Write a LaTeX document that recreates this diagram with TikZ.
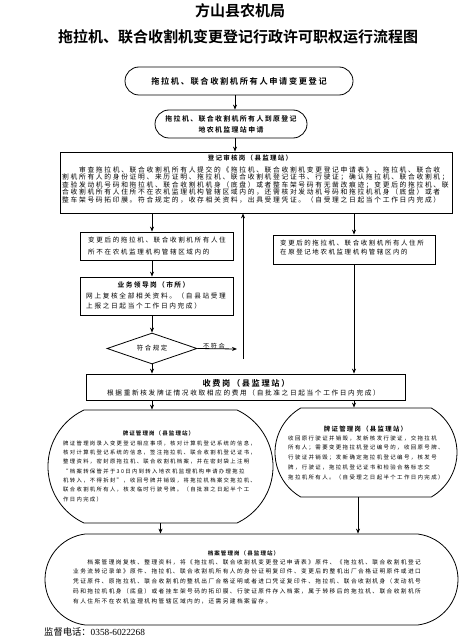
\documentclass[tikz,border=0pt]{standalone}
\usepackage{fontspec}
\setmainfont{Liberation Serif}
\newfontfamily\cjk[LetterSpace=25]{Noto Sans CJK SC}
\newfontfamily\cjkb[LetterSpace=20]{Noto Sans CJK SC Bold}
\newfontfamily\cjkt{Noto Sans CJK SC Bold}
\newfontfamily\cjkn{Noto Sans CJK SC}
\usetikzlibrary{shapes.misc,shapes.geometric,arrows.meta}
\newcommand{\fsz}[2]{\fontsize{#1}{#2}\selectfont}

\begin{document}
\begin{tikzpicture}[x=1pt,y=-1pt,
  box/.style={draw, line width=0.8pt, inner sep=0pt},
  stad/.style={draw, line width=0.8pt, rounded rectangle, inner sep=0pt},
  hd/.style={inner sep=0pt, font=\cjkb\fsz{#1}{#1}},
  bd/.style n args={2}{inner sep=0pt, anchor=west, align=left, font=\cjk\fsz{#1}{#2}},
  arr/.style={line width=0.8pt, -{Stealth[length=5pt,width=4pt]}}]

\useasboundingbox (0,0) rectangle (468,639);

% Titles
\node[font=\cjkt\fsz{15}{18}] (t1) at (240,11) {方山县农机局};
\node[font=\cjkt\fsz{15}{18}] (t2) at (238,37) {拖拉机、联合收割机变更登记行政许可职权运行流程图};

% Application
\node[stad, minimum width=228, minimum height=28, font=\cjkb\fsz{8.2}{10}] (s1) at (239,81) {拖拉机、联合收割机所有人申请变更登记};
\node[stad, minimum width=152, minimum height=28, align=center, font=\cjkb\fsz{6.9}{11}] (s2) at (231,124) {拖拉机、联合收割机所有人到原登记\\地农机监理站申请};

% Registration review
\node[box, minimum width=392, minimum height=61] (b3) at (256,182.5) {};
\node[hd=6.5] (b3h) at (250,158.5) {登记审核岗（县监理站）};
\node[bd={6.75}{7.5}] (b3x) at (62,184.5) {　　审查拖拉机、联合收割机所有人提交的《拖拉机、联合收割机变更登记申请表》、拖拉机、联合收\\
割机所有人的身份证明、来历证明、拖拉机、联合收割机登记证书、行驶证；确认拖拉机、联合收割机；\\
查验发动机号码和拖拉机、联合收割机机身（底盘）或者整车架号码有无凿改痕迹；变更后的拖拉机、联\\
合收割机所有人住所不在农机监理机构管辖区域内的，还需核对发动机号码和拖拉机机身（底盘）或者\\
整车架号码拓印膜。符合规定的，收存相关资料，出具受理凭证。（自受理之日起当个工作日内完成）};

% Left branch
\node[box, minimum width=153, minimum height=28] (b4) at (156.5,246) {};
\node[bd={6.55}{11.7}] (b4x) at (88,246) {变更后的拖拉机、联合收割机所有人住\\所不在农机监理机构管辖区域内的};

\node[box, minimum width=153, minimum height=38] (b5) at (156.5,296) {};
\node[hd=6.75] (b5h) at (153.5,285) {业务领导岗（市所）};
\node[bd={6.65}{10}] (b5x) at (86,301) {网上复核全部相关资料。（自县站受理\\上报之日起当个工作日内完成）};

\node[draw, diamond, aspect=3, line width=0.8pt, inner sep=0pt, minimum width=90, minimum height=31, font=\cjk\fsz{6.4}{8}] (dm) at (152,348.5) {符合规定};
\coordinate (nf) at (237,349);
\node[inner sep=0pt, font=\cjk\fsz{6.15}{8}] (nfl) at (214,346) {不符合};
\coordinate (rt) at (243,359);

% Right branch
\node[box, minimum width=162, minimum height=29] (b4r) at (354,249.5) {};
\node[bd={6.45}{9}] (b4rx) at (280,247.5) {变更后的拖拉机、联合收割机所有人住所\\在原登记地农机监理机构管辖区内的};

% Fees
\node[box, minimum width=319, minimum height=26] (b6) at (245.5,387) {};
\node[hd=8.2] (b6h) at (246,383) {收费岗（县监理站）};
\node[inner sep=0pt, font=\cjk\fsz{6.65}{8}] (b6x) at (243.5,392.5) {根据重新核发牌证情况收取相应的费用（自批准之日起当个工作日内完成）};

% Plates and licences
\node[stad, rounded rectangle arc length=130, minimum width=225, minimum height=113] (s7) at (160.5,466.5) {};
\node[hd=5.5] (s7h) at (158.5,433) {牌证管理岗（县监理站）};
\node[bd={5.35}{9.33}] (s7x) at (63,471) {牌证管理岗录入变更登记相应事项，核对计算机登记系统的信息，\\
核对计算机登记系统的信息，签注拖拉机、联合收割机登记证书，\\
整理资料，密封原拖拉机、联合收割机档案，并在密封袋上注明\\
“档案转保管并于30日内到转入地农机监理机构申请办理拖拉\\
机转入，不得拆封”，收回号牌并销毁，将拖拉机档案交拖拉机、\\
联合收割机所有人，核发临时行驶号牌。（自批准之日起半个工\\
作日内完成）};

\node[stad, rounded rectangle arc length=120, minimum width=182, minimum height=89] (s8) at (366,452.5) {};
\node[hd=6.4] (s8h) at (365.5,429) {牌证管理岗（县监理站）};
\node[bd={5.45}{9.75}] (s8x) at (288,457.5) {收回原行驶证并销毁，发新核发行驶证，交拖拉机\\
所有人；需要变更拖拉机登记编号的，收回原号牌、\\
行驶证并销毁；发新确定拖拉机登记编号，核发号\\
牌，行驶证，拖拉机登记证书和检验合格标志交\\
拖拉机所有人。（自受理之日起半个工作日内完成）};

% Archive
\node[stad, rounded rectangle arc length=166, minimum width=413, minimum height=91] (s9) at (251.5,579.5) {};
\node[hd=5.5] (s9h) at (243.5,553) {档案管理岗（县监理站）};
\node[bd={5.7}{9.75}] (s9x) at (73,581.5) {　　档案管理岗复核、整理资料，将《拖拉机、联合收割机变更登记申请表》原件、《拖拉机、联合收割机登记\\
业务流转记录单》原件、拖拉机、联合收割机所有人的身份证明复印件、变更后的整机出厂合格证明原件或进口\\
凭证原件、原拖拉机、联合收割机的整机出厂合格证明或者进口凭证复印件、拖拉机、联合收割机身（发动机号\\
码和拖拉机机身（底盘）或者挂车架号码的拓印膜、行驶证原件存入档案，属于转移后的拖拉机、联合收割机所\\
有人住所不在农机监理机构管辖区域内的，还需另建档案留存。};

\node[anchor=west, inner sep=0pt, font=\fsz{9.3}{11}] (tel) at (44,632) {{\cjkn 监督电话：}0358-6022268};

% Arrows
\draw[arr] ([xshift=-4]s1.south) -- ([xshift=-4]s1.south |- s2.north);
\draw[arr] ([xshift=4]s2.south) -- ([xshift=4]s2.south |- b3.north);
\draw[arr] (dm.north |- b3.south) -- (dm.north |- b4.north);
\draw[arr] (dm.north |- b4.south) -- (dm.north |- b5.north);
\draw[arr] (dm.north |- b5.south) -- (dm.north);
\draw[arr] (dm.east) -- (nf);
\draw[arr] (rt) -- (rt |- b3.south);
\draw[arr] (b4r.north |- b3.south) -- (b4r.north);
\draw[arr] (b4r.south) -- (b4r.south |- b6.north);
\draw[arr] (dm.south) -- (dm.south |- b6.north);
\foreach \c/\n in {dm/s7, b4r/s8}
  \draw[arr] (b6.south -| \c) -- (\n.north -| \c);
\draw[arr] (s7.south) -- (s7.south |- s9.north);
\draw[arr] ([xshift=-8]s8.south) -- ([xshift=-8]s8.south |- s9.north);

\end{tikzpicture}
\end{document}
